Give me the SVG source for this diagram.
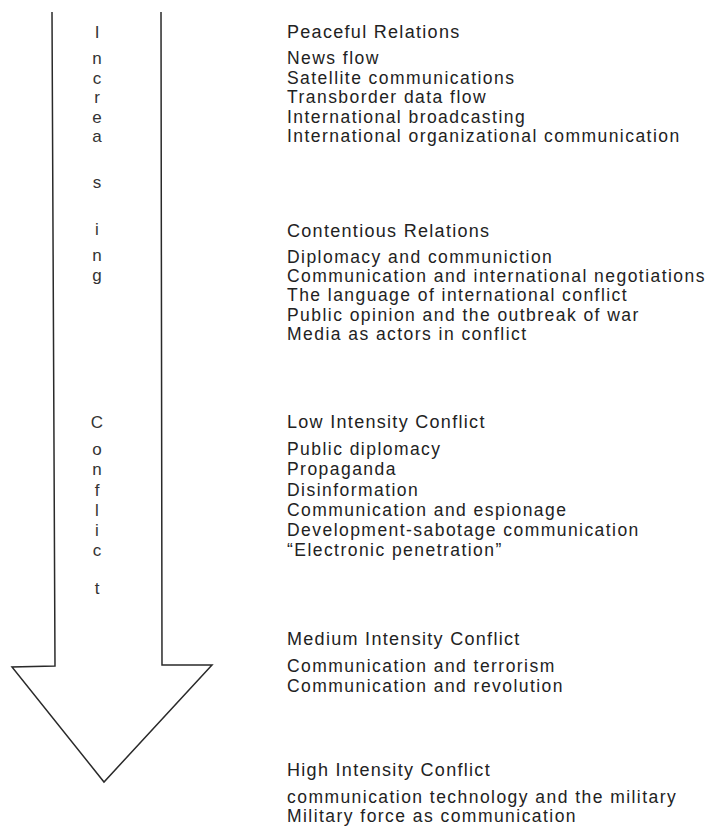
<svg xmlns="http://www.w3.org/2000/svg" width="716" height="827" viewBox="0 0 716 827">
<style>
text{font-family:"Liberation Sans",Arial,sans-serif;fill:#222}
.h{font-size:18px;letter-spacing:1.3px}
.t{font-size:17.5px;letter-spacing:1.45px}
.v{font-size:17px;text-anchor:middle;fill:#333}
.arrow{fill:none;stroke:#2a2a2a;stroke-width:1.5;stroke-linejoin:miter}
</style>
<rect width="716" height="827" fill="#fff"/>
<g id="connectors">
<path class="arrow" d="M52,12 L55,666 L12,667 L104,782 L212,665 L162,665 L161,12"/>
</g>
<g id="axis-label">
<text class="v" x="97" y="38">I</text>
<text class="v" x="97" y="64">n</text>
<text class="v" x="97" y="84">c</text>
<text class="v" x="97" y="103">r</text>
<text class="v" x="97" y="123">e</text>
<text class="v" x="97" y="142">a</text>
<text class="v" x="97" y="188">s</text>
<text class="v" x="97" y="235">i</text>
<text class="v" x="97" y="261">n</text>
<text class="v" x="97" y="281">g</text>
<text class="v" x="97" y="428">C</text>
<text class="v" x="97" y="455">o</text>
<text class="v" x="97" y="475">n</text>
<text class="v" x="97" y="496">f</text>
<text class="v" x="97" y="516">l</text>
<text class="v" x="97" y="536">i</text>
<text class="v" x="97" y="556">c</text>
<text class="v" x="97" y="594">t</text>
</g>
<g id="peaceful">
<text class="h" x="287" y="38">Peaceful Relations</text>
<text class="t" x="287" y="64">News flow</text>
<text class="t" x="287" y="83.5">Satellite communications</text>
<text class="t" x="287" y="103">Transborder data flow</text>
<text class="t" x="287" y="122.5">International broadcasting</text>
<text class="t" x="287" y="142">International organizational communication</text>
</g>
<g id="contentious">
<text class="h" x="287" y="237">Contentious Relations</text>
<text class="t" x="287" y="263">Diplomacy and communiction</text>
<text class="t" x="287" y="282">Communication and international negotiations</text>
<text class="t" x="287" y="301">The language of international conflict</text>
<text class="t" x="287" y="320.5">Public opinion and the outbreak of war</text>
<text class="t" x="287" y="340">Media as actors in conflict</text>
</g>
<g id="low">
<text class="h" x="287" y="428">Low Intensity Conflict</text>
<text class="t" x="287" y="455">Public diplomacy</text>
<text class="t" x="287" y="475">Propaganda</text>
<text class="t" x="287" y="495.5">Disinformation</text>
<text class="t" x="287" y="515.5">Communication and espionage</text>
<text class="t" x="287" y="535.5">Development-sabotage communication</text>
<text class="t" x="287" y="555.5">“Electronic penetration”</text>
</g>
<g id="medium">
<text class="h" x="287" y="645">Medium Intensity Conflict</text>
<text class="t" x="287" y="672">Communication and terrorism</text>
<text class="t" x="287" y="692">Communication and revolution</text>
</g>
<g id="high">
<text class="h" x="287" y="776">High Intensity Conflict</text>
<text class="t" x="287" y="803">communication technology and the military</text>
<text class="t" x="287" y="822">Military force as communication</text>
</g>
</svg>
